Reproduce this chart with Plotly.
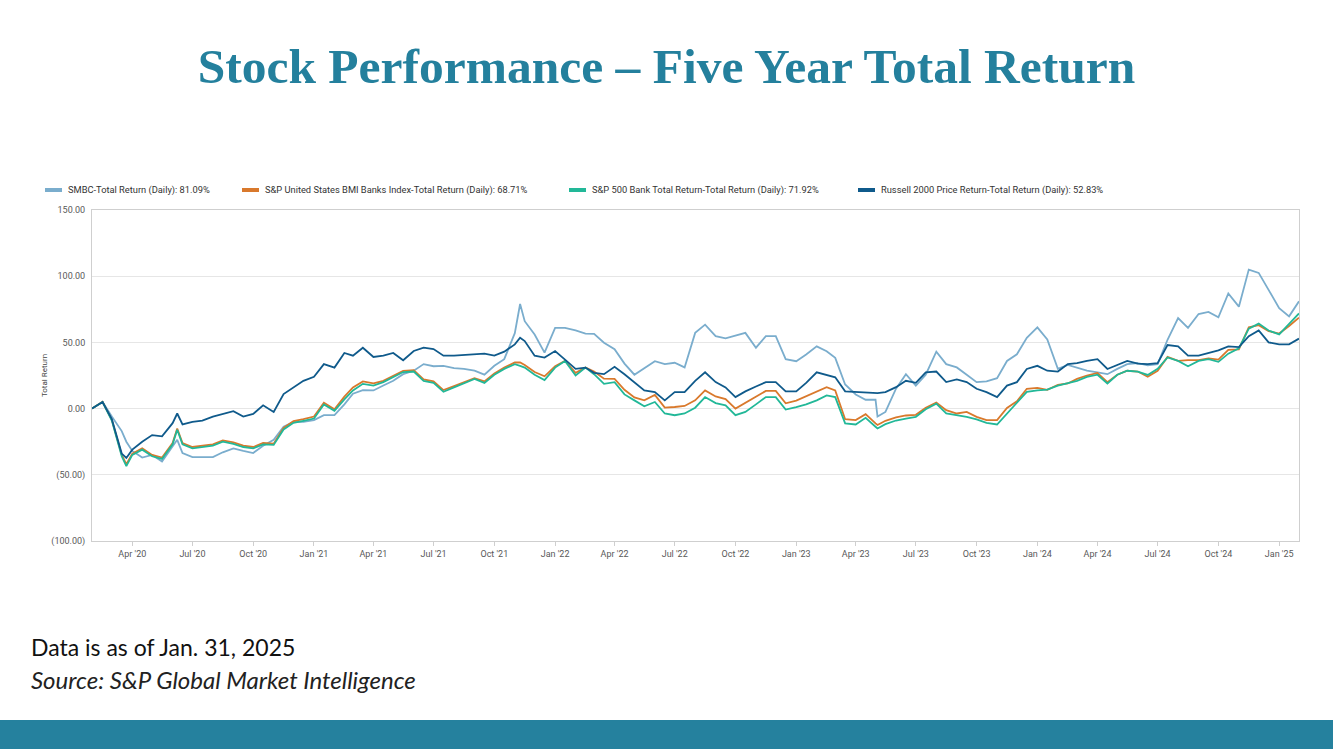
import plotly.graph_objects as go

# ---------------- data ----------------
dates = [
    "2020-01-31", "2020-02-16", "2020-03-01", "2020-03-16", "2020-03-23", "2020-04-01", "2020-04-16",
    "2020-05-01", "2020-05-16", "2020-06-01", "2020-06-08", "2020-06-16", "2020-07-01", "2020-07-16",
    "2020-08-01", "2020-08-16", "2020-09-01", "2020-09-16", "2020-10-01", "2020-10-16", "2020-11-01",
    "2020-11-16", "2020-12-01", "2020-12-16",
    "2021-01-01", "2021-01-16", "2021-02-01", "2021-02-16", "2021-03-01", "2021-03-16", "2021-04-01",
    "2021-04-16", "2021-05-01", "2021-05-16", "2021-06-01", "2021-06-16", "2021-07-01", "2021-07-16",
    "2021-08-01", "2021-08-16", "2021-09-01", "2021-09-16", "2021-10-01", "2021-10-16", "2021-11-01",
    "2021-11-09", "2021-11-16", "2021-12-01", "2021-12-16",
    "2022-01-01", "2022-01-16", "2022-02-01", "2022-02-16", "2022-03-01", "2022-03-16", "2022-04-01",
    "2022-04-16", "2022-05-01", "2022-05-16", "2022-06-01", "2022-06-16", "2022-07-01", "2022-07-16",
    "2022-08-01", "2022-08-16", "2022-09-01", "2022-09-16", "2022-10-01", "2022-10-16", "2022-11-01",
    "2022-11-16", "2022-12-01", "2022-12-16",
    "2023-01-01", "2023-01-16", "2023-02-01", "2023-02-16", "2023-03-01", "2023-03-16", "2023-04-01",
    "2023-04-16", "2023-05-01", "2023-05-04", "2023-05-16", "2023-06-01", "2023-06-16", "2023-07-01",
    "2023-07-16", "2023-08-01", "2023-08-16", "2023-09-01", "2023-09-16", "2023-10-01", "2023-10-16",
    "2023-11-01", "2023-11-16", "2023-12-01", "2023-12-16",
    "2024-01-01", "2024-01-16", "2024-02-01", "2024-02-16", "2024-03-01", "2024-03-16", "2024-04-01",
    "2024-04-16", "2024-05-01", "2024-05-16", "2024-06-01", "2024-06-16", "2024-07-01", "2024-07-16",
    "2024-08-01", "2024-08-16", "2024-09-01", "2024-09-16", "2024-10-01", "2024-10-16", "2024-11-01",
    "2024-11-16", "2024-12-01", "2024-12-16",
    "2025-01-01", "2025-01-16", "2025-01-31",
]

smbc = [
    0, 5, -6, -17, -25, -32, -37, -35, -40, -29, -23.6, -33.6, -36.6, -36.6, -36.6, -33, -30, -32, -33.6,
    -28, -23.6, -13.7, -10, -10,
    -8.7, -5, -5, 3.2, 11.2, 14, 13.7, 17.4, 21, 26, 28.6, 33.6, 32, 32.3, 30.6, 30, 28.6, 25.6, 32.3,
    37.3, 57, 79, 66, 56, 42.3,
    61, 61, 59, 56.7, 56.5, 49.8, 44.8, 34, 25.6, 30.3, 35.8, 33.6, 34.6, 31.1, 57.2, 63.4, 54.7, 53,
    55.2, 57.2, 46, 54.7, 54.7, 37.3,
    35.8, 40.8, 47, 43.3, 38.3, 18.2, 10.7, 6.7, 6.7, -6, -2.5, 15, 26, 17.4, 25.6, 43, 33.6, 31.1, 25.6,
    20, 20.6, 23, 36, 41, 53.5,
    61.4, 52.2, 30, 33, 31, 28.6, 27.4, 26, 30, 33.6, 34.3, 32.6, 33.6, 52, 68.4, 61, 71.4, 73, 69, 87,
    77, 105, 102.5, 89.6,
    75.9, 69.7, 81.09,
]

bmi_banks = [
    0, 5.2, -8.5, -35, -42, -34, -30, -35, -37, -26, -15, -26, -29, -28, -27, -24, -25.5, -28, -29, -26,
    -26.5, -14.5, -9.5, -8,
    -6, 4.5, -0.5, 9, 16, 20.5, 19, 21, 25, 28.5, 29, 22, 20.5, 14, 17, 20, 23, 20.5, 26.5, 31, 34.8,
    34.8, 33, 27.6, 24.4,
    32, 36, 27, 31, 28, 22.6, 22.4, 14.2, 8.5, 6.2, 10.4, 0.7, 1.2, 2, 6.2, 13.7, 9.2, 7.2, 0, 4.2, 8.7,
    13.4, 13.4, 4,
    6, 9.2, 13.2, 16.2, 13.7, -8, -8.7, -4.2, -11.2, -12.4, -9.2, -6.7, -5.2, -4.7, 0.7, 4.5, -1.2, -3.7,
    -2.5, -6.2, -8.7, -8.7, 0.5, 5.5, 15,
    15.7, 14.2, 18, 19, 22.4, 25, 26.9, 20, 25.6, 28.6, 28, 24, 28.6, 39, 36, 36.6, 36.6, 38, 37, 44.3,
    44.8, 61.4, 63, 58.5,
    56.7, 62.4, 68.71,
]

sp500_banks = [
    0, 5, -9, -36, -43.5, -35, -31, -36, -38, -27, -16, -27, -30, -29, -28, -25, -26.6, -29, -30, -27,
    -27.4, -15.7, -10.7, -9.2,
    -7.5, 3.2, -1.7, 7, 13.7, 18.7, 17.4, 20, 24, 27.6, 28, 21, 19.4, 12.7, 16, 19, 22.4, 19.4, 25.6, 30,
    33.6, 32.3, 31, 25.6, 21.6,
    31, 36, 25, 31, 26, 18.7, 20, 10.7, 6.2, 1.7, 5, -3.7, -5, -3.7, 0.7, 8.7, 4.2, 2.5, -5, -2.5, 3.2,
    8.7, 8.7, -0.7,
    1.2, 3.2, 6.2, 10, 8.7, -11.2, -12, -7, -13.7, -15, -11.7, -9, -7.5, -6.2, -0.5, 3.7, -3.7, -5, -6.2,
    -8.2, -10.7, -12, -3.7, 4.2, 12.7,
    13.7, 14.4, 17.4, 19, 21, 24, 25.6, 19, 25.6, 28.6, 28, 25.4, 30, 38.6, 36, 32, 36, 37.3, 35.3, 41.5,
    45.5, 60.4, 64.2, 59,
    56, 64, 71.92,
]

russell2000 = [
    0, 5, -8, -34, -37.3, -31, -25, -20, -21, -11, -3.7, -12, -10, -9, -6, -4, -2, -6, -4, 2.5, -2.5, 11,
    16, 21,
    24, 33.6, 31, 42, 40, 46, 39, 40, 42, 36.5, 43.5, 46, 45, 40, 40, 40.5, 41.5, 41.5, 40, 43, 48.5, 53.5,
    51, 40, 38.5,
    43.5, 37, 30, 31, 27, 26, 31.6, 26, 20, 13.7, 12.4, 6.2, 12.4, 12.4, 21, 27.4, 20, 16, 8.7, 13, 16.7,
    20, 20, 13,
    13, 19.4, 27.4, 25.6, 23.6, 13, 12.4, 12.4, 11.7, 11.7, 12.4, 16.2, 21, 19.5, 27.4, 28, 20, 22, 20, 15,
    12.4, 8.7, 17.4, 20, 29.9,
    32.3, 28.6, 28, 33.6, 34.3, 36, 37.3, 29.9, 33, 36, 34, 33.6, 34.3, 48, 47, 40, 40, 42, 44, 47, 46.5,
    54.7, 59, 50,
    48.5, 48.5, 52.83,
]

series_names = [
    "SMBC-Total Return (Daily)",
    "S&P United States BMI Banks Index-Total Return (Daily)",
    "S&P 500 Bank Total Return-Total Return (Daily)",
    "Russell 2000 Price Return-Total Return (Daily)",
]
series_values = [smbc, bmi_banks, sp500_banks, russell2000]
series_colors = ["#7aadcd", "#d9792c", "#22b898", "#0f5a8b"]

y_tick_vals = [-100, -50, 0, 50, 100, 150]
y_tick_text = ["(100.00)", "(50.00)", "0.00", "50.00", "100.00", "150.00"]
x_tick_vals = [
    "2020-04-01", "2020-07-01", "2020-10-01", "2021-01-01", "2021-04-01", "2021-07-01", "2021-10-01",
    "2022-01-01", "2022-04-01", "2022-07-01", "2022-10-01", "2023-01-01", "2023-04-01", "2023-07-01",
    "2023-10-01", "2024-01-01", "2024-04-01", "2024-07-01", "2024-10-01", "2025-01-01",
]
x_tick_text = [
    "Apr '20", "Jul '20", "Oct '20", "Jan '21", "Apr '21", "Jul '21", "Oct '21", "Jan '22", "Apr '22",
    "Jul '22", "Oct '22", "Jan '23", "Apr '23", "Jul '23", "Oct '23", "Jan '24", "Apr '24", "Jul '24",
    "Oct '24", "Jan '25",
]

for s in series_values:
    assert len(s) == len(dates), (len(s), len(dates))

# ---------------- layout helpers (pixels -> paper) ----------------
W, H = 1333, 749
L, R, T, B = 92, 1299, 210, 541


def px_x(x):
    return (x - L) / (R - L)


def px_y(y):
    return (B - y) / (B - T)


TEAL = "#24809d"
TICK_FONT = dict(family="Roboto, Arial, sans-serif", size=9, color="#595959")

fig = go.Figure()
for name, vals, col in zip(series_names, series_values, series_colors):
    fig.add_trace(go.Scatter(
        x=dates, y=vals, mode="lines", name=name,
        line=dict(color=col, width=1.8),
        showlegend=False,
        hovertemplate="%{x}<br>%{y:.2f}<extra>" + name + "</extra>",
    ))

# manual legend (bars + text) above the plot
legend_bar_x = [(45, 62), (242, 259), (569, 586), (858, 875)]
legend_y = 190
shapes = []
annotations = []
for (x0, x1), name, vals, col in zip(legend_bar_x, series_names, series_values, series_colors):
    shapes.append(dict(type="rect", xref="paper", yref="paper",
                       x0=px_x(x0), x1=px_x(x1), y0=px_y(legend_y + 2), y1=px_y(legend_y - 2),
                       fillcolor=col, line=dict(width=0)))
    annotations.append(dict(xref="paper", yref="paper", x=px_x(x1 + 4), y=px_y(legend_y),
                            xanchor="left", yanchor="middle", showarrow=False,
                            text=f"{name}: {vals[-1]:.2f}%",
                            font=dict(family="Roboto, Arial, sans-serif", size=9.3, color="#333333")))

# bottom band
shapes.append(dict(type="rect", xref="paper", yref="paper",
                   x0=px_x(0), x1=px_x(W), y0=px_y(H), y1=px_y(720),
                   fillcolor="#25819e", line=dict(width=0), layer="above"))

# footnotes
annotations.append(dict(xref="paper", yref="paper", x=px_x(29), y=px_y(647),
                        xanchor="left", yanchor="middle", showarrow=False,
                        text="Data is as of Jan. 31, 2025",
                        font=dict(family="Lato, Open Sans, sans-serif", size=23, color="#111111")))
annotations.append(dict(xref="paper", yref="paper", x=px_x(29), y=px_y(679),
                        xanchor="left", yanchor="middle", showarrow=False,
                        text="<i>Source: S&P Global Market Intelligence</i>",
                        font=dict(family="Lato, Open Sans, sans-serif", size=24, color="#222222")))

fig.update_layout(
    width=W, height=H,
    margin=dict(l=L, r=W - R, t=T, b=H - B, pad=0),
    paper_bgcolor="white", plot_bgcolor="white",
    title=dict(text="<b>Stock Performance – Five Year Total Return</b>",
               x=0.5, xref="container", xanchor="center",
               y=1 - 66 / H, yref="container", yanchor="middle",
               font=dict(family="Liberation Serif, DejaVu Serif, serif", size=49.5, color=TEAL)),
    xaxis=dict(type="date", range=[dates[0], dates[-1]],
               tickvals=x_tick_vals, ticktext=x_tick_text,
               showgrid=False, zeroline=False,
               showline=True, linecolor="#cfcfcf", linewidth=1, mirror=True,
               ticks="outside", ticklen=4, tickcolor="#cfcfcf",
               tickfont=TICK_FONT),
    yaxis=dict(range=[-100, 150], tickvals=y_tick_vals, ticktext=y_tick_text,
               showgrid=True, gridcolor="#e6e6e6", gridwidth=1, zeroline=False,
               showline=True, linecolor="#cfcfcf", linewidth=1, mirror=True,
               ticks="", ticklabelstandoff=4,
               tickfont=TICK_FONT,
               title=dict(text="Total Return", standoff=2,
                          font=dict(family="Roboto, Arial, sans-serif", size=8, color="#444444"))),
    shapes=shapes,
    annotations=annotations,
    hovermode="x unified",
)

# remove the browser's default 8px page margin so the figure sits at (0, 0)
fig.write_html(
    "out.html",
    config={"displayModeBar": False},
    post_script="document.body.style.margin='0';document.body.style.overflow='hidden';",
)
